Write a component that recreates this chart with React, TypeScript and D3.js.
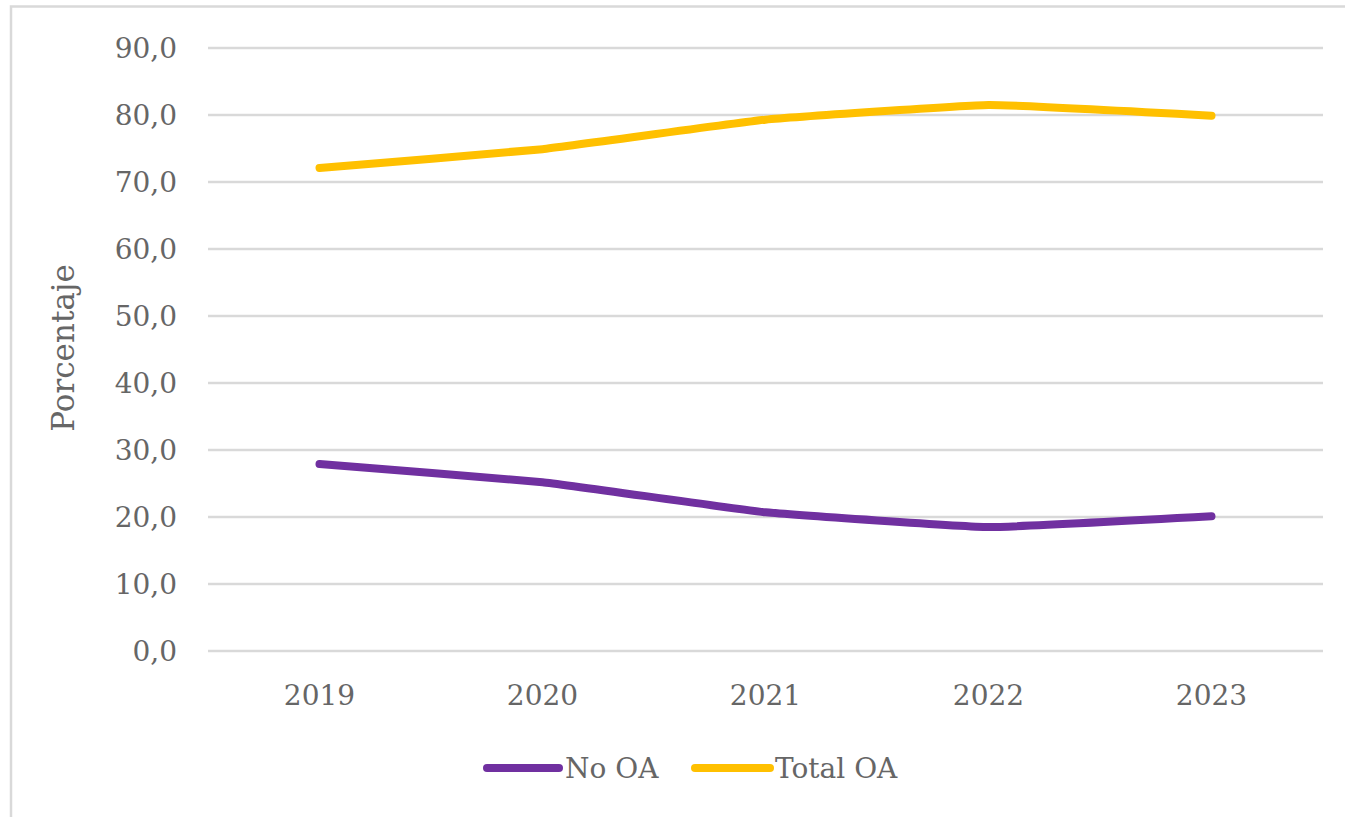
import * as d3 from 'd3';
import { useEffect, useRef } from 'react';

const years = ['2019', '2020', '2021', '2022', '2023'];
const noOA = [27.9, 25.2, 20.7, 18.5, 20.1];
const totalOA = [72.1, 74.9, 79.3, 81.5, 79.9];
const yTicks = [0, 10, 20, 30, 40, 50, 60, 70, 80, 90];

const series = [
  { name: 'No OA', values: noOA, color: '#7030a0' },
  { name: 'Total OA', values: totalOA, color: '#ffc000' },
];

export default function App() {
  const ref = useRef<SVGSVGElement | null>(null);

  useEffect(() => {
    if (!ref.current) return;
    const width = 1345;
    const height = 817;
    const font = '"DejaVu Serif", serif';
    const textColor = '#666666';

    const svg = d3.select(ref.current);
    svg.selectAll('*').remove();

    // outer frame
    svg
      .append('rect')
      .attr('x', 11)
      .attr('y', 6.5)
      .attr('width', width + 20)
      .attr('height', height + 20)
      .attr('fill', '#fff')
      .attr('stroke', '#d9d9d9')
      .attr('stroke-width', 2.5);

    const x = d3.scaleBand().domain(years).range([208, 1323]);
    const y = d3.scaleLinear().domain([0, 90]).range([651, 48]);

    /* grid + y labels */
    const g = svg.append('g');
    g.selectAll('line.grid')
      .data(yTicks)
      .enter()
      .append('line')
      .attr('class', 'grid')
      .attr('x1', 208)
      .attr('x2', 1323)
      .attr('y1', (d) => y(d))
      .attr('y2', (d) => y(d))
      .attr('stroke', '#d9d9d9')
      .attr('stroke-width', 2.5);

    g.selectAll('text.ytick')
      .data(yTicks)
      .enter()
      .append('text')
      .attr('class', 'ytick')
      .attr('x', 177)
      .attr('y', (d) => y(d))
      .attr('dy', '0.35em')
      .attr('text-anchor', 'end')
      .attr('font-family', font)
      .attr('font-size', 28)
      .attr('fill', textColor)
      .text((d) => d.toFixed(1).replace('.', ','));

    g.selectAll('text.xtick')
      .data(years)
      .enter()
      .append('text')
      .attr('class', 'xtick')
      .attr('x', (d) => (x(d) as number) + x.bandwidth() / 2)
      .attr('y', 695)
      .attr('dy', '0.35em')
      .attr('text-anchor', 'middle')
      .attr('font-family', font)
      .attr('font-size', 28)
      .attr('fill', textColor)
      .text((d) => d);

    svg
      .append('text')
      .attr('transform', `translate(63,348) rotate(-90)`)
      .attr('text-anchor', 'middle')
      .attr('dy', '0.35em')
      .attr('font-family', font)
      .attr('font-size', 31)
      .attr('fill', textColor)
      .text('Porcentaje');

    /* lines */
    const line = d3
      .line<number>()
      .x((_, i) => (x(years[i]) as number) + x.bandwidth() / 2)
      .y((d) => y(d))
      .curve(d3.curveCardinal.tension(0.7));

    series.forEach((s) => {
      svg
        .append('path')
        .attr('d', line(s.values))
        .attr('fill', 'none')
        .attr('stroke', s.color)
        .attr('stroke-width', 8)
        .attr('stroke-linecap', 'round')
        .attr('stroke-linejoin', 'round');
    });

    /* legend */
    const legendItems = [
      { ...series[0], x1: 487, x2: 559, tx: 565 },
      { ...series[1], x1: 695, x2: 770, tx: 775 },
    ];
    legendItems.forEach((l) => {
      svg
        .append('line')
        .attr('x1', l.x1)
        .attr('x2', l.x2)
        .attr('y1', 768)
        .attr('y2', 768)
        .attr('stroke', l.color)
        .attr('stroke-width', 8)
        .attr('stroke-linecap', 'round');
      svg
        .append('text')
        .attr('x', l.tx)
        .attr('y', 768)
        .attr('dy', '0.35em')
        .attr('font-family', font)
        .attr('font-size', 28)
        .attr('fill', textColor)
        .text(l.name);
    });
  }, []);

  return (
    <svg
      ref={ref}
      width={1345}
      height={817}
      style={{ position: 'absolute', left: 0, top: 0, background: '#fff' }}
    />
  );
}
